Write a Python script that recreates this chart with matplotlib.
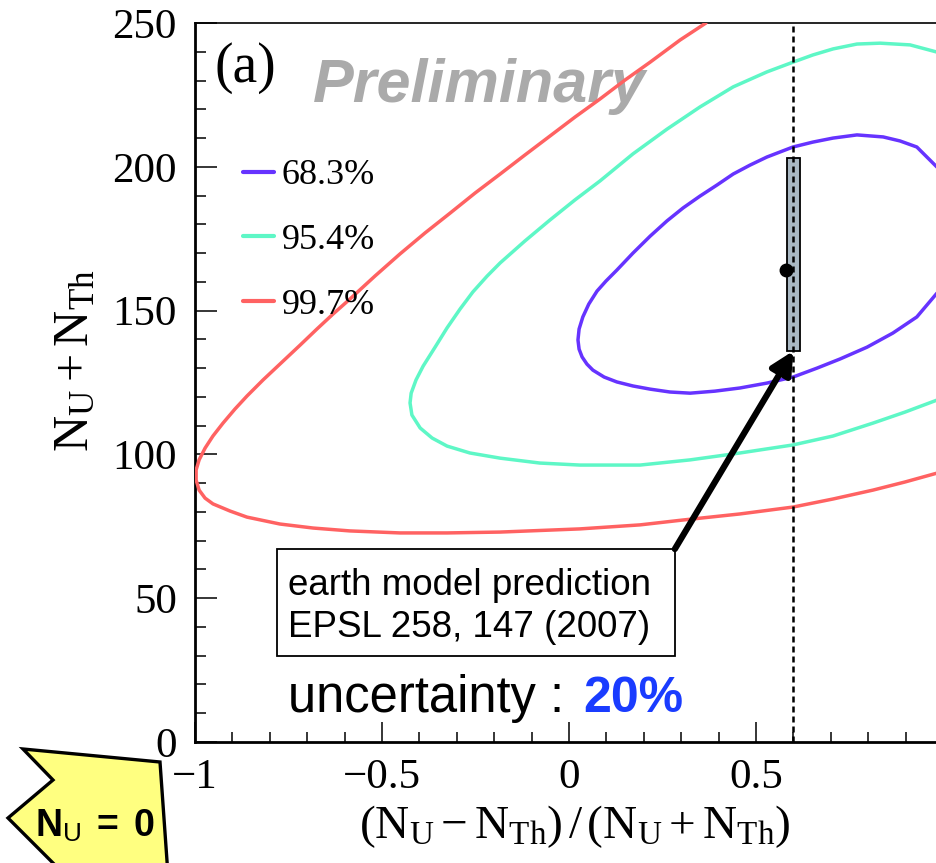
import matplotlib
matplotlib.use("Agg")
import matplotlib.pyplot as plt
from matplotlib.patches import Rectangle, Polygon
from matplotlib.ticker import MultipleLocator

plt.rcParams['font.family'] = ['Liberation Serif', 'DejaVu Serif']
plt.rcParams['mathtext.fontset'] = 'custom'
plt.rcParams['mathtext.rm'] = 'Liberation Serif'
plt.rcParams['mathtext.it'] = 'Liberation Serif:italic'
plt.rcParams['mathtext.bf'] = 'Liberation Sans:bold'
plt.rcParams['mathtext.sf'] = 'Liberation Sans'

# ---- confidence-level contours: (N_U - N_Th)/(N_U + N_Th) vs N_U + N_Th ----
cl683_x = [0.984, 0.930, 0.885, 0.840, 0.770, 0.706, 0.652, 0.599, 0.529, 0.484,
           0.439, 0.396, 0.350, 0.305, 0.262, 0.217, 0.171, 0.128, 0.099, 0.075,
           0.053, 0.037, 0.027, 0.024, 0.027, 0.035, 0.048, 0.064, 0.094, 0.128,
           0.171, 0.217, 0.270, 0.324, 0.390, 0.457, 0.529, 0.599, 0.663, 0.725,
           0.797, 0.866, 0.930, 0.984]
cl683_y = [199.9, 206.9, 209.0, 210.4, 211.1, 210.0, 208.6, 206.9, 203.4, 200.6,
           197.5, 193.7, 189.8, 185.7, 181.2, 175.9, 170.0, 164.1, 160.3, 156.8,
           152.3, 147.8, 143.6, 139.8, 136.6, 133.9, 131.4, 129.3, 126.9, 125.2,
           123.8, 122.7, 121.7, 121.3, 122.0, 123.1, 124.8, 126.9, 130.0, 133.2,
           137.3, 142.2, 147.8, 156.1]

cl954_x = [0.984, 0.912, 0.832, 0.770, 0.706, 0.652, 0.599, 0.529, 0.439, 0.350,
           0.262, 0.171, 0.083, 0.016, -0.051, -0.118, -0.184, -0.219, -0.257,
           -0.291, -0.326, -0.358, -0.390, -0.409, -0.422, -0.425, -0.420, -0.398,
           -0.366, -0.326, -0.265, -0.184, -0.078, 0.029, 0.190, 0.324, 0.457,
           0.599, 0.706, 0.813, 0.898, 0.984]
cl954_y = [239.9, 242.4, 243.0, 242.7, 241.0, 238.9, 236.4, 233.0, 227.8, 220.8,
           213.1, 204.5, 195.1, 188.5, 181.5, 174.2, 166.6, 162.0, 156.5,
           150.6, 144.0, 137.3, 130.7, 125.9, 121.3, 117.9, 113.7, 109.2,
           105.7, 102.9, 100.5, 98.7, 97.0, 96.3, 96.3, 98.1, 100.5,
           103.3, 106.4, 110.9, 114.7, 118.9]

cl997_x = [0.366, 0.297, 0.217, 0.150, 0.083, 0.016, -0.051, -0.118, -0.184,
           -0.251, -0.318, -0.385, -0.452, -0.519, -0.586, -0.631, -0.674, -0.719,
           -0.773, -0.818, -0.861, -0.893, -0.925, -0.952, -0.973, -0.989, -0.997,
           -0.997, -0.989, -0.973, -0.952, -0.906, -0.861, -0.773, -0.684, -0.586,
           -0.452, -0.326, -0.184, 0.029, 0.190, 0.305, 0.457, 0.599, 0.706, 0.813,
           0.898, 0.984]
cl997_y = [250.0, 244.1, 236.4, 230.2, 223.6, 217.3, 210.7, 204.1, 197.5,
           190.9, 183.9, 177.0, 169.7, 162.0, 154.0, 148.8, 143.6, 138.0,
           131.4, 125.9, 120.3, 115.8, 110.9, 106.4, 102.2, 98.1, 94.6,
           91.1, 87.6, 84.8, 82.8, 80.3, 78.2, 75.8, 74.4, 73.4,
           72.7, 72.7, 73.0, 74.1, 75.5, 77.2, 79.3, 81.7, 84.5, 87.6,
           90.4, 93.5]

cl_labels = ['68.3%', '95.4%', '99.7%']
cl_colors = ['#6633ff', '#5ef7c6', '#ff6262']

# earth model prediction and best fit
pred_ratio = 0.6
pred_ratio_halfwidth = 0.017
pred_total = [136.0, 203.0]
best_fit = [0.58, 164.0]

x_ticks = [-1, -0.5, 0, 0.5]
x_ticklabels = ['\u22121', '\u22120.5', '0', '0.5']
y_ticks = [0, 50, 100, 150, 200, 250]

fig = plt.figure(figsize=(9.37, 8.63), dpi=100)
ax = fig.add_axes([0.2081, 0.1402, 0.7983, 0.8331])

for xs, ys, lab, col in zip([cl683_x, cl954_x, cl997_x],
                            [cl683_y, cl954_y, cl997_y], cl_labels, cl_colors):
    ax.plot(xs, ys, color=col, lw=2.5, label=lab, zorder=3,
            solid_joinstyle='round', solid_capstyle='round')

ax.set_xlim(-1, 1)
ax.set_ylim(0, 250)

# prediction band, vertical reference and best-fit point
ax.add_patch(Rectangle((pred_ratio - pred_ratio_halfwidth, pred_total[0]),
                       2 * pred_ratio_halfwidth, pred_total[1] - pred_total[0],
                       facecolor='#a9b8c3', edgecolor='black', lw=1.3, zorder=4))
ax.axvline(pred_ratio, color='black', lw=1.8, ls=(0, (2.4, 1.6)), zorder=5)
ax.plot([best_fit[0]], [best_fit[1]], 'o', color='black', ms=9, zorder=6)

# reference box for the earth model, with an arrow to the prediction band
box_x, box_y, box_w, box_h = -0.781, 29.9, 1.064, 37.2
ax.add_patch(Rectangle((box_x, box_y), box_w, box_h, facecolor='white',
                       edgecolor='black', lw=1.3, zorder=7))
ax.text(-0.751, 51.1, 'earth model prediction', fontsize=26.5,
        family='Liberation Sans', ha='left', va='baseline', zorder=8)
ax.text(-0.751, 36.5, 'EPSL 258, 147 (2007)', fontsize=26.5,
        family='Liberation Sans', ha='left', va='baseline', zorder=8)
ax.annotate('', xy=(pred_ratio, pred_total[0]), xycoords='data',
            xytext=(box_x + box_w, box_y + box_h), textcoords='data',
            arrowprops=dict(arrowstyle='-|>', color='black', lw=4.5,
                            mutation_scale=34, shrinkA=0, shrinkB=0),
            zorder=8)

ax.text(-0.751, 10.4, 'uncertainty :', fontsize=36.5, family='Liberation Sans',
        ha='left', va='baseline', zorder=7)
ax.text(0.037, 10.4, '20%', fontsize=36, family='Liberation Sans',
        fontweight='bold', color='#1a3cff', ha='left', va='baseline', zorder=7)

ax.text(-0.684, 222.5, 'Preliminary', fontsize=44, family='Liberation Sans',
        fontweight='bold', fontstyle='italic', color='#aaaaaa',
        ha='left', va='baseline', zorder=1)
ax.text(-0.947, 229.5, '(a)', fontsize=40, family='Liberation Serif',
        ha='left', va='baseline', zorder=7)

leg = ax.legend(loc='upper left', bbox_to_anchor=(0.064, 0.811), frameon=False,
                prop={'family': 'Liberation Serif', 'size': 26},
                handlelength=0.86, handletextpad=0.22, labelspacing=0.87,
                borderpad=0, borderaxespad=0)
for h in leg.get_lines():
    h.set_linewidth(3)

# axes styling
ax.set_xticks(x_ticks)
ax.set_xticklabels(x_ticklabels)
ax.set_yticks(y_ticks)
ax.xaxis.set_minor_locator(MultipleLocator(0.1))
ax.yaxis.set_minor_locator(MultipleLocator(10))
ax.tick_params(axis='both', which='both', direction='in', width=1.1,
               top=False, right=False, labelsize=31)
ax.tick_params(axis='y', which='major', length=16, pad=13)
ax.tick_params(axis='y', which='minor', length=8)
ax.tick_params(axis='x', which='major', length=14.4, pad=12)
ax.tick_params(axis='x', which='minor', length=7.2)
ax.spines['left'].set_linewidth(2.0)
ax.spines['bottom'].set_linewidth(2.0)
ax.spines['top'].set_linewidth(1.2)
ax.spines['right'].set_visible(False)

ax.set_xlabel(r'$\mathrm{(N_U - N_{Th})\,/\,(N_U + N_{Th})}$', fontsize=34)
ax.set_ylabel(r'$\mathrm{N_U + N_{Th}}$', fontsize=36)
ax.xaxis.set_label_coords(0.508, -0.085)
ax.yaxis.set_label_coords(-0.128, 0.53)

# side tag
tag = Polygon([(23 / 937, 1 - 749 / 863), (160 / 937, 1 - 762 / 863),
               (168 / 937, 1 - 875 / 863), (65 / 937, 1 - 875 / 863),
               (8 / 937, 1 - 818 / 863), (53 / 937, 1 - 780 / 863)],
              closed=True, transform=fig.transFigure, facecolor='#ffff80',
              edgecolor='black', lw=2.4, clip_on=False)
fig.add_artist(tag)
fig.text(35 / 937, 1 - 837 / 863, r'$\mathbf{N}_{\mathsf{U}}\mathbf{\ =\ 0}$',
         fontsize=27, ha='left', va='baseline')

fig.savefig('out.png', dpi=100)
